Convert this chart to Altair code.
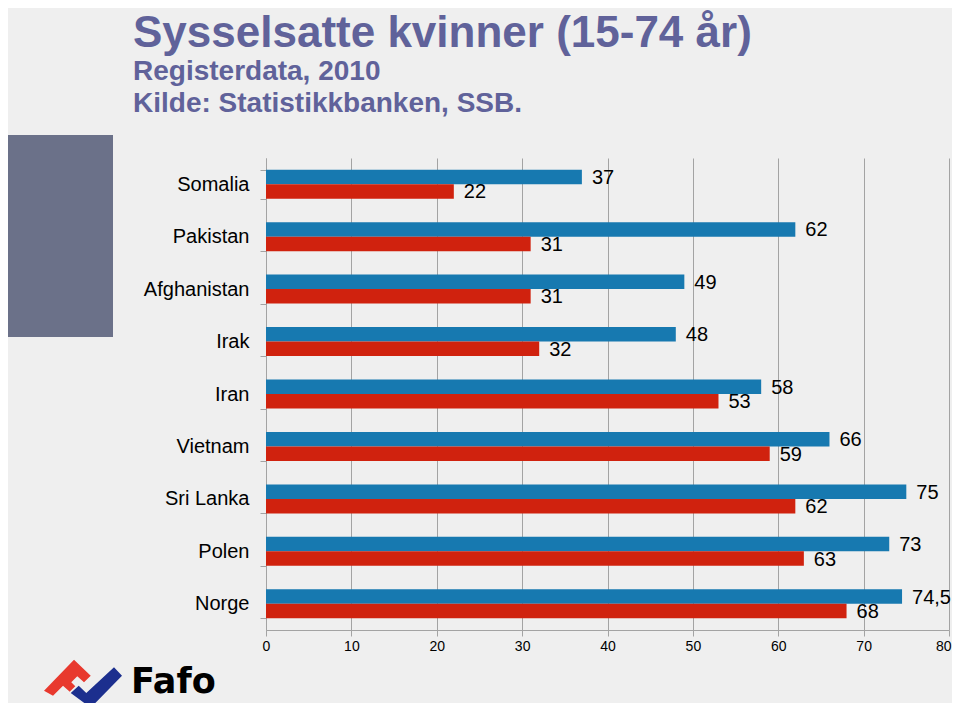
import altair as alt
import pandas as pd

# ---------------- data ----------------
countries = ["Somalia", "Pakistan", "Afghanistan", "Irak", "Iran",
             "Vietnam", "Sri Lanka", "Polen", "Norge"]
blue_values = [37, 62, 49, 48, 58, 66, 75, 73, 74.5]
red_values = [22, 31, 31, 32, 53, 59, 62, 63, 68]
blue_labels = ["37", "62", "49", "48", "58", "66", "75", "73", "74,5"]
red_labels = ["22", "31", "31", "32", "53", "59", "62", "63", "68"]
series_names = ["Serie 1", "Serie 2"]
series_colors = ["#1779B0", "#D0220E"]
x_ticks = [0, 10, 20, 30, 40, 50, 60, 70, 80]

title_text = "Sysselsatte kvinner (15-74 år)"
subtitle_lines = ["Registerdata, 2010", "Kilde: Statistikkbanken, SSB."]

rows = []
for c, v, l in zip(countries, blue_values, blue_labels):
    rows.append({"land": c, "serie": series_names[0], "verdi": v, "etikett": l})
for c, v, l in zip(countries, red_values, red_labels):
    rows.append({"land": c, "serie": series_names[1], "verdi": v, "etikett": l})
df = pd.DataFrame(rows)

# ---------------- layout ----------------
W, H = 683, 472
PAD_L, PAD_T, PAD_R, PAD_B = 258, 150, 3, 73
OX, OY = 8 + PAD_L, 8 + PAD_T  # page position of plot origin

AXIS_GRAY = "#A3A3A3"
TITLE_COLOR = "#60629A"

y_enc = alt.Y(
    "land:N", sort=countries,
    scale=alt.Scale(paddingInner=0.446, paddingOuter=0.223),
    axis=alt.Axis(title=None, tickBand="extent", labelFontSize=20,
                  labelFont="Liberation Sans", labelColor="#000000",
                  tickSize=6, labelPadding=11, domainColor=AXIS_GRAY,
                  tickColor=AXIS_GRAY, grid=False, labelLimit=300),
)
x_enc = alt.X(
    "verdi:Q",
    scale=alt.Scale(domain=[0, 80], nice=False, zero=True),
    axis=alt.Axis(title=None, values=x_ticks, grid=True, gridColor=AXIS_GRAY,
                  gridOpacity=1, labelFont="Liberation Sans Narrow, Liberation Sans",
                  labelFontSize=14, labelColor="#000000", tickSize=6,
                  labelPadding=3, domainColor=AXIS_GRAY, tickColor=AXIS_GRAY,
                  labelFlush=False,
                  labelAlign=alt.ExprRef(expr="datum.value >= 80 ? 'right' : 'center'"),
                  labelOffset=alt.ExprRef(expr="datum.value >= 80 ? 2 : 0")),
)
yoff = alt.YOffset("serie:N", sort=series_names)
color = alt.Color("serie:N", scale=alt.Scale(domain=series_names, range=series_colors),
                  legend=None)

bars = alt.Chart(df).mark_bar(size=14.5).encode(y=y_enc, x=x_enc, yOffset=yoff, color=color)
labels = alt.Chart(df).mark_text(
    align="left", baseline="middle", dx=10, dy=1, fontSize=20,
    font="Liberation Sans", color="#000000"
).encode(y=alt.Y("land:N", sort=countries), x="verdi:Q", yOffset=yoff, text="etikett:N")


def deco_text(txt, px, py, size, col, font, weight="bold"):
    return alt.Chart(pd.DataFrame({"t": [txt]})).mark_text(
        align="left", baseline="alphabetic", fontSize=size, font=font,
        fontWeight=weight, color=col
    ).encode(text="t:N", x=alt.value(px - OX), y=alt.value(py - OY))


title = deco_text(title_text, 133, 47, 44, TITLE_COLOR, "Liberation Sans")
sub1 = deco_text(subtitle_lines[0], 133, 80, 28, TITLE_COLOR, "Liberation Sans")
sub2 = deco_text(subtitle_lines[1], 133, 112, 28, TITLE_COLOR, "Liberation Sans")

side_rect = alt.Chart(pd.DataFrame({"a": [0]})).mark_rect(color="#6B7189").encode(
    x=alt.value(8 - OX), x2=alt.value(113 - OX),
    y=alt.value(135 - OY), y2=alt.value(337 - OY))

# Fafo logo (decoration)
LCX, LCY, LR = 83, 684, 40


def to_path(pts):
    return "M" + " L".join(f"{(x - LCX) / LR:.3f},{(y - LCY) / LR:.3f}" for x, y in pts) + " Z"


shift = -9
red_pts = [(44, 699.7), (74, 668.7), (90.7, 684.7), (84, 691.3), (77.3, 685.3),
           (71.3, 691.3), (75.3, 695.3), (69.7, 700.7), (63, 694.7), (53, 704.7)]
blue_pts = [(70.7, 702), (78.7, 694.7), (86.3, 702), (114, 676.3), (122, 684.7), (90.7, 716.7)]
red_pts = [(x, y + shift) for x, y in red_pts]
blue_pts = [(x, y + shift) for x, y in blue_pts]


def logo_part(pts, col):
    return alt.Chart(pd.DataFrame({"a": [0]})).mark_point(
        shape=to_path(pts), filled=True, color=col, opacity=1, strokeWidth=0,
        size=(2 * LR) ** 2
    ).encode(x=alt.value(LCX - OX), y=alt.value(LCY - OY))


logo_red = logo_part(red_pts, "#E8392E")
logo_blue = logo_part(blue_pts, "#1C2F8E")
fafo = deco_text("Fafo", 131, 693, 35, "#000000", "DejaVu Sans")

chart = alt.layer(
    side_rect, bars, labels, title, sub1, sub2, logo_red, logo_blue, fafo
).properties(
    width=W, height=H,
    autosize=alt.AutoSizeParams(type="none"),
    padding={"left": PAD_L, "top": PAD_T, "right": PAD_R, "bottom": PAD_B},
    background="#EFEFEF",
).configure_view(stroke=None)

chart.save("out.html", embed_options={"renderer": "svg", "actions": False})
